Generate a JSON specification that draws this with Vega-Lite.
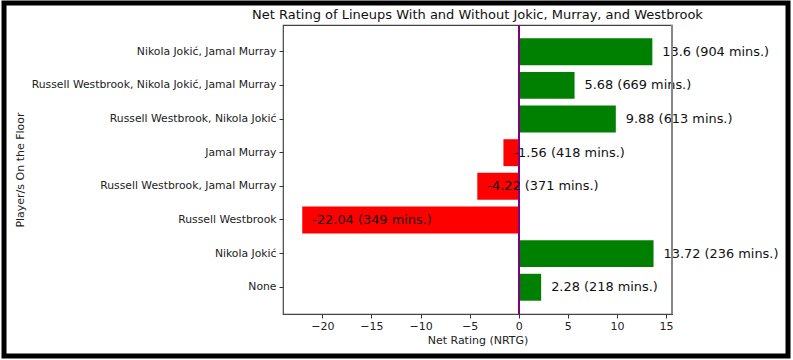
{
  "$schema": "https://vega.github.io/schema/vega-lite/v6.json",
  "autosize": "none",
  "width": 389,
  "height": 289,
  "padding": {"left": 283, "top": 25, "right": 121, "bottom": 46},
  "background": "white",
  "title": {
    "text": "Net Rating of Lineups With and Without Jokic, Murray, and Westbrook",
    "font": "DejaVu Sans",
    "fontSize": 13,
    "fontWeight": "normal",
    "color": "#111",
    "offset": -21,
    "anchor": "middle",
    "frame": "group"
  },
  "config": {
    "view": {"stroke": "#444", "strokeWidth": 1.2},
    "font": "DejaVu Sans"
  },
  "resolve": {"scale": {"y": "independent"}},
  "layer": [
    {
      "data": {
        "values": [
          {"lineup": "Nikola Jokić, Jamal Murray", "nrtg": 13.6, "mins": 904},
          {"lineup": "Russell Westbrook, Nikola Jokić, Jamal Murray", "nrtg": 5.68, "mins": 669},
          {"lineup": "Russell Westbrook, Nikola Jokić", "nrtg": 9.88, "mins": 613},
          {"lineup": "Jamal Murray", "nrtg": -1.56, "mins": 418},
          {"lineup": "Russell Westbrook, Jamal Murray", "nrtg": -4.22, "mins": 371},
          {"lineup": "Russell Westbrook", "nrtg": -22.04, "mins": 349},
          {"lineup": "Nikola Jokić", "nrtg": 13.72, "mins": 236},
          {"lineup": "None", "nrtg": 2.28, "mins": 218}
        ]
      },
      "transform": [
        {"calculate": "datum.nrtg + ' (' + datum.mins + ' mins.)'", "as": "label"}
      ],
      "layer": [
        {
          "mark": {"type": "bar"},
          "encoding": {
            "y": {
              "field": "lineup", "type": "nominal", "sort": null,
              "scale": {"paddingInner": 0.2, "paddingOuter": 0.395},
              "axis": {
                "title": "Player/s On the Floor",
                "titleFont": "DejaVu Sans", "titleFontSize": 11, "titleFontWeight": "normal",
                "titleColor": "#222", "titleX": -263, "titleBaseline": "middle", "titleAngle": 270,
                "labelFont": "DejaVu Sans", "labelFontSize": 10.8, "labelColor": "#222",
                "labelPadding": 3, "labelLimit": 400,
                "tickColor": "#333", "tickSize": 4, "domain": false, "grid": false
              }
            },
            "x": {
              "field": "nrtg", "type": "quantitative",
              "scale": {"domain": [-24.0, 15.6], "nice": false, "zero": true},
              "axis": {
                "title": "Net Rating (NRTG)",
                "titleFont": "DejaVu Sans", "titleFontSize": 11, "titleFontWeight": "normal",
                "titleColor": "#222", "titlePadding": 3,
                "values": [-20, -15, -10, -5, 0, 5, 10, 15],
                "labelFont": "DejaVu Sans", "labelFontSize": 11, "labelColor": "#222",
                "labelPadding": 2, "labelFlush": false,
                "tickColor": "#333", "tickSize": 4, "domain": false, "grid": false
              }
            },
            "color": {
              "condition": {"test": "datum.nrtg < 0", "value": "#ff0000"},
              "value": "#008000"
            }
          }
        },
        {
          "mark": {"type": "rule", "color": "#800080", "strokeWidth": 1.5},
          "encoding": {"x": {"datum": 0, "type": "quantitative"}}
        },
        {
          "mark": {"type": "text", "align": "left", "baseline": "middle", "dx": 10, "fontSize": 12.9, "font": "DejaVu Sans", "color": "#111"},
          "encoding": {
            "y": {"field": "lineup", "type": "nominal", "sort": null},
            "x": {"field": "nrtg", "type": "quantitative"},
            "text": {"field": "label"}
          }
        },
        {
          "mark": {"type": "rule", "color": "#888", "strokeWidth": 1.4},
          "encoding": {"x": {"datum": 15.6, "type": "quantitative"}}
        }
      ]
    },
    {
      "data": {"values": [{}]},
      "mark": {"type": "rect", "filled": false, "stroke": "black", "strokeWidth": 5},
      "encoding": {
        "x": {"datum": -52.4, "type": "quantitative"},
        "x2": {"datum": 27.41},
        "y": {"datum": 1.0761, "type": "quantitative", "scale": {"domain": [0, 1], "nice": false, "zero": false}, "axis": null},
        "y2": {"datum": -0.1453}
      }
    }
  ]
}
